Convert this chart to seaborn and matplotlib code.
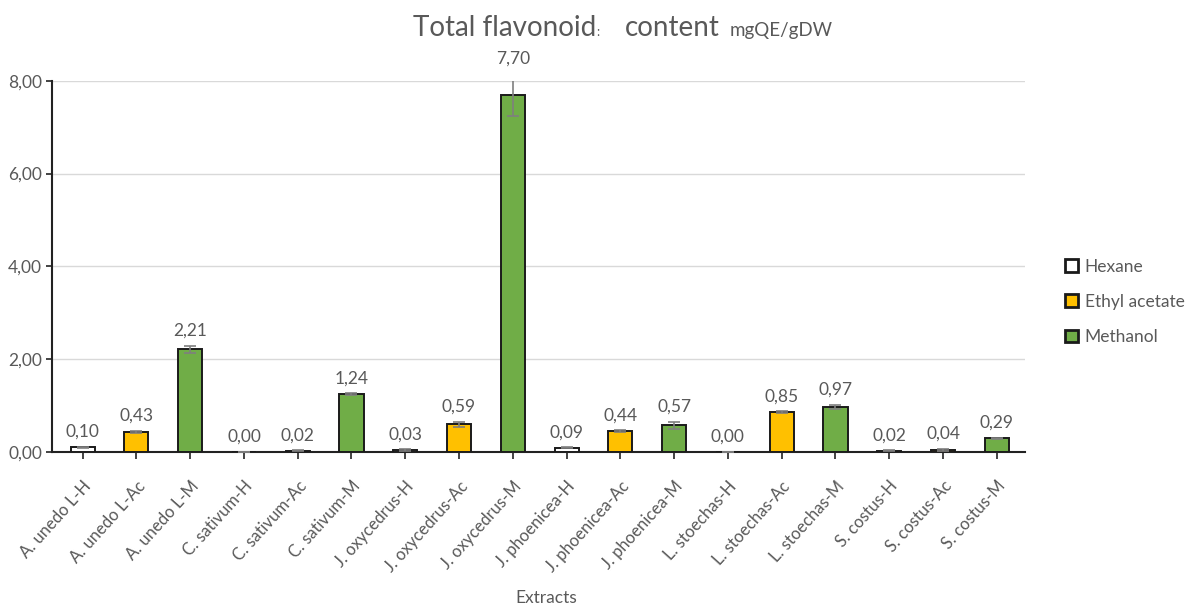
import numpy as np
import pandas as pd
import matplotlib
matplotlib.use('Agg')
import matplotlib.pyplot as plt
import seaborn as sns

# Data
extracts = ['A. unedo L-H', 'A. unedo L-Ac', 'A. unedo L-M',
            'C. sativum-H', 'C. sativum-Ac', 'C. sativum-M',
            'J. oxycedrus-H', 'J. oxycedrus-Ac', 'J. oxycedrus-M',
            'J. phoenicea-H', 'J. phoenicea-Ac', 'J. phoenicea-M',
            'L. stoechas-H', 'L. stoechas-Ac', 'L. stoechas-M',
            'S. costus-H', 'S. costus-Ac', 'S. costus-M']
solvents = ['Hexane', 'Ethyl acetate', 'Methanol'] * 6
values = [0.10, 0.43, 2.21, 0.00, 0.02, 1.24, 0.03, 0.59, 7.70,
          0.09, 0.44, 0.57, 0.00, 0.85, 0.97, 0.02, 0.04, 0.29]
errors = [0.01, 0.02, 0.07, 0.00, 0.01, 0.02, 0.02, 0.05, 0.45,
          0.01, 0.02, 0.07, 0.00, 0.02, 0.04, 0.01, 0.02, 0.01]

df = pd.DataFrame({'extract': extracts, 'solvent': solvents, 'value': values, 'err': errors})

sns.set_style('white')
plt.rcParams['font.family'] = ['Lato', 'DejaVu Sans']
gray = '#595959'

fig = plt.figure(figsize=(11.93, 6.08), dpi=100)
ax = fig.add_axes([0.044, 0.257, 0.815, 0.61])

palette = {'Hexane': '#FFFFFF', 'Ethyl acetate': '#FFC000', 'Methanol': '#70AD47'}
sns.barplot(data=df, x='extract', y='value', hue='solvent', palette=palette,
            dodge=False, width=0.45, saturation=1, edgecolor='#1a1a1a', linewidth=1.4,
            errorbar=None, ax=ax, zorder=3)

x = np.arange(len(extracts))
ax.errorbar(x, df['value'], yerr=df['err'], fmt='none', ecolor='#7f7f7f',
            elinewidth=1.2, capsize=4, capthick=1.2, zorder=4)

for xi, v, e in zip(x, df['value'], df['err']):
    ax.text(xi, v + e + 0.15, f'{v:.2f}'.replace('.', ','), ha='center', va='bottom',
            fontsize=12.5, color=gray)

ax.set_ylim(0, 8)
ax.set_xlim(-0.56, len(extracts) - 1 + 0.52)
ax.set_yticks([0, 2, 4, 6, 8])
ax.set_yticklabels([f'{t:.2f}'.replace('.', ',') for t in [0, 2, 4, 6, 8]], fontsize=12.5, color=gray)
ax.yaxis.grid(True, color='#d9d9d9', linewidth=1)
ax.set_axisbelow(True)

ax.set_xticks(x)
ax.set_xticklabels(extracts, rotation=48, ha='right', rotation_mode='anchor', fontsize=12, color=gray)
ax.tick_params(axis='x', length=5, width=1.2, color='#222222', pad=14, bottom=True)
ax.tick_params(axis='y', length=4, width=1.2, color='#222222', left=True)

for s in ['top', 'right']:
    ax.spines[s].set_visible(False)
for s in ['left', 'bottom']:
    ax.spines[s].set_color('#222222')
    ax.spines[s].set_linewidth(1.5)

ax.set_xlabel('')
ax.set_ylabel('')
fig.text(0.458, 0.004, 'Extracts', fontsize=12.5, color=gray, ha='center', va='bottom')

handles, labels = ax.get_legend_handles_labels()
for h in handles:
    h.set_linewidth(2)
ax.legend(handles, labels, loc='center left', bbox_to_anchor=(1.032, 0.404), frameon=False,
          borderpad=0, fontsize=12.5, labelcolor=gray, handlelength=0.75, handleheight=0.75,
          labelspacing=1.1, handletextpad=0.4)

fig.text(0.346, 0.94, 'Total flavonoid', fontsize=20, color=gray, ha='left', va='baseline')
fig.text(0.5, 0.94, ':', fontsize=9, color=gray, ha='left', va='baseline')
fig.text(0.524, 0.94, 'content', fontsize=20, color=gray, ha='left', va='baseline')
fig.text(0.612, 0.94, 'mgQE/gDW', fontsize=13.5, color=gray, ha='left', va='baseline')

fig.savefig('out.png', dpi=100)
